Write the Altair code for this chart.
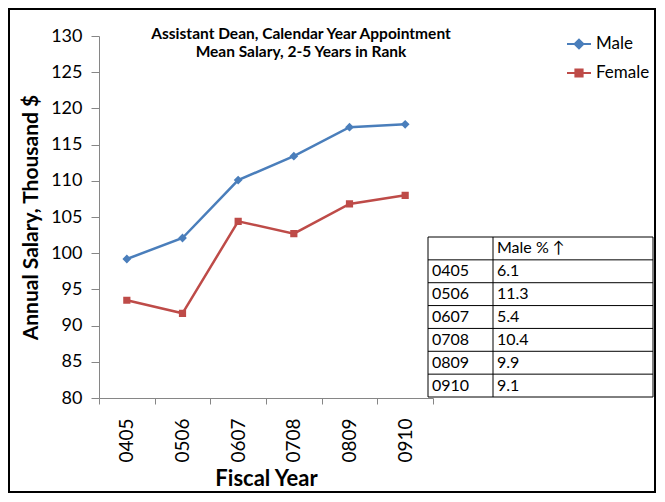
import altair as alt
import pandas as pd

years = ["0405", "0506", "0607", "0708", "0809", "0910"]
male = [99.2, 102.1, 110.1, 113.4, 117.4, 117.8]
female = [93.5, 91.7, 104.4, 102.7, 106.8, 108.0]
series = ["Male", "Female"]
colors = ["#4A7EBB", "#BE4B48"]
male_pct = ["6.1", "11.3", "5.4", "10.4", "9.9", "9.1"]
table_header = ["", "Male % \u2191"]
title_lines = ["Assistant Dean, Calendar Year Appointment", "Mean Salary, 2-5 Years in Rank"]
y_ticks = [80, 85, 90, 95, 100, 105, 110, 115, 120, 125, 130]

FONT = "Lato"
W, H = 334, 362
AXC = "#868686"

df = pd.DataFrame({
    "year": years * 2,
    "salary": male + female,
    "series": [series[0]] * len(years) + [series[1]] * len(years),
})

diamond = "M-1.5,0H1.5M0,-0.55L0.55,0L0,0.55L-0.55,0Z"
square = "M-1.5,0H1.5M-0.45,-0.45H0.45V0.45H-0.45Z"

xenc = alt.X(
    "year:O",
    scale=alt.Scale(type="band", domain=years, paddingInner=0, paddingOuter=0),
    bandPosition=0.5,
    axis=alt.Axis(
        title="Fiscal Year", titleFont=FONT, titleFontSize=22, titleFontWeight="bold",
        titleColor="black", titlePadding=6,
        labelFont=FONT, labelFontSize=19, labelColor="black", labelAngle=270,
        labelPadding=14, tickSize=6, tickColor=AXC, domainColor=AXC,
        tickBand="extent", grid=False,
    ),
)
yenc = alt.Y(
    "salary:Q",
    scale=alt.Scale(domain=[80, 130], nice=False, zero=False),
    axis=alt.Axis(
        title="Annual Salary, Thousand $", titleFont=FONT, titleFontSize=21,
        titleFontWeight="bold", titleColor="black", titlePadding=9,
        labelFont=FONT, labelFontSize=18, labelColor="black", labelPadding=9,
        values=y_ticks, tickSize=8, tickColor=AXC, domainColor=AXC, grid=False,
    ),
)
cscale = alt.Scale(domain=series, range=colors)
legend = alt.Legend(
    title=None, orient="none", legendX=471, legendY=-1, labelFont=FONT,
    labelFontSize=17, labelColor="black", symbolSize=256, symbolStrokeWidth=2,
    rowPadding=11, labelOffset=8,
)

base = alt.Chart(df)
lines = base.mark_line(strokeWidth=2.5).encode(
    x=xenc, y=yenc, color=alt.Color("series:N", scale=cscale, legend=legend),
    detail="series:N",
)
points = base.mark_point(filled=True, size=256, opacity=1).encode(
    x=xenc, y=yenc,
    color=alt.Color("series:N", scale=cscale, legend=legend),
    shape=alt.Shape("series:N", scale=alt.Scale(domain=series, range=[diamond, square]), legend=legend),
)
main = alt.layer(lines, points)

# table
tdf = pd.DataFrame({
    "r": list(range(len(years) + 1)),
    "c0": [table_header[0]] + years,
    "c1": [table_header[1]] + male_pct,
})
tdf["mid"] = tdf["r"] + 0.5
bdf = pd.DataFrame({"b": list(range(len(years) + 2))})
TX0, TX1, TX2 = 329, 394, 554
TY0, TY1 = 201, 361
tscale = alt.Scale(domain=[0, len(years) + 1], range=[TY0, TY1], nice=False, zero=False)
ty = alt.Y("mid:Q", scale=tscale, axis=None)
t0 = alt.Chart(tdf).mark_text(align="left", baseline="middle", font=FONT, fontSize=16, color="black").encode(
    x=alt.value(TX0 + 4), y=ty, text="c0:N")
t1 = alt.Chart(tdf).mark_text(align="left", baseline="middle", font=FONT, fontSize=16, color="black").encode(
    x=alt.value(TX1 + 4), y=ty, text="c1:N")
hr = alt.Chart(bdf).mark_rule(color="black", strokeWidth=1).encode(
    x=alt.value(TX0), x2=alt.value(TX2), y=alt.Y("b:Q", scale=tscale, axis=None))
vr = [
    alt.Chart(pd.DataFrame({"v": [0]})).mark_rule(color="black", strokeWidth=1).encode(
        x=alt.value(xv), y=alt.value(TY0), y2=alt.value(TY1))
    for xv in (TX0, TX1, TX2)
]
table = alt.layer(hr, *vr, t0, t1)

border = alt.Chart(pd.DataFrame({"v": [0]})).mark_rect(
    filled=False, stroke="black", strokeWidth=2).encode(
    x=alt.value(-90), x2=alt.value(556), y=alt.value(-27), y2=alt.value(456))

chart = alt.layer(border, main, table).resolve_scale(y="independent").properties(
    width=W, height=H,
    autosize=alt.AutoSizeParams(type="none"),
    padding={"left": 91, "top": 28, "right": 224, "bottom": 96},
    title=alt.TitleParams(
        text=title_lines, font=FONT, fontSize=15.5, fontWeight="bold", color="black",
        anchor="middle", frame="group", dx=35, dy=56, lineHeight=18,
    ),
).configure_view(stroke=None)

chart.save("out.html", embed_options={"renderer": "svg", "actions": False})
